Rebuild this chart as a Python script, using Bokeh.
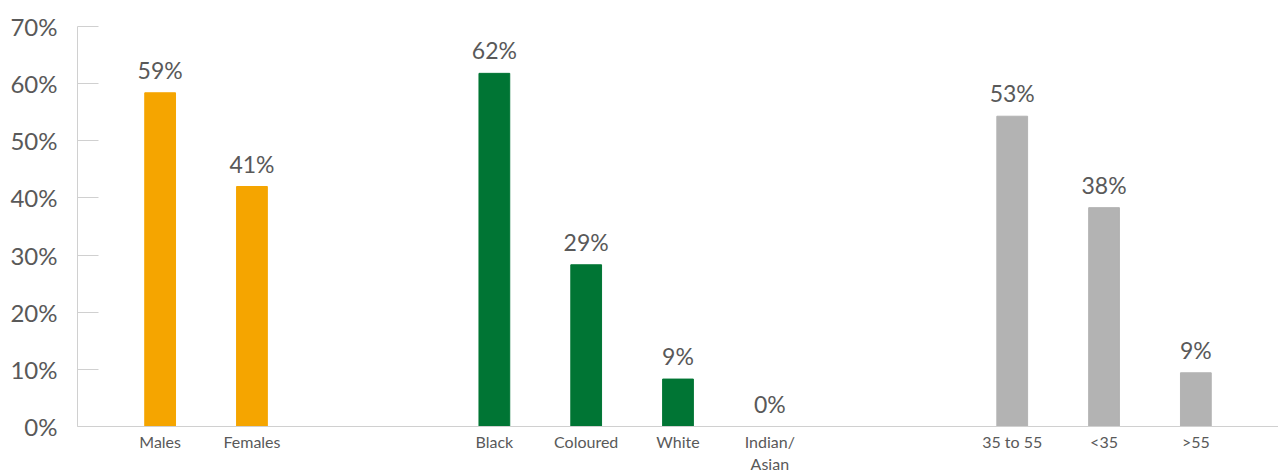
from bokeh.plotting import figure
from bokeh.models import FactorRange, ColumnDataSource, FixedTicker, PrintfTickFormatter
from bokeh.core.properties import value
from bokeh.embed import file_html
from bokeh.resources import INLINE

groups = ["Gender", "Gender", "Race", "Race", "Race", "Race", "Age", "Age", "Age"]
categories = ["Males", "Females", "Black", "Coloured", "White", "Indian/\nAsian", "35 to 55", "<35", ">55"]
values = [58.4, 42.0, 61.8, 28.3, 8.3, 0.0, 54.3, 38.3, 9.4]
labels = ["59%", "41%", "62%", "29%", "9%", "0%", "53%", "38%", "9%"]
group_colors = {"Gender": "#F5A500", "Race": "#007534", "Age": "#B3B3B3"}
y_ticks = [0, 10, 20, 30, 40, 50, 60, 70]

FONT = "Lato"
TEXT = "#595959"
AXIS = "#D0D0D0"

factors = list(zip(groups, categories))
src = ColumnDataSource(dict(
    x=factors, top=values, label=labels,
    color=[group_colors[g] for g in groups],
))

p = figure(
    width=1278, height=476,
    x_range=FactorRange(*factors, group_padding=1.64, range_padding=0.40,
                        range_padding_units="absolute"),
    y_range=(0, 70),
    output_backend="svg", toolbar_location=None,
    min_border_left=77, min_border_right=0, min_border_top=26, min_border_bottom=40,
)
p.outline_line_color = None
p.xgrid.grid_line_color = None
p.ygrid.grid_line_color = None

p.vbar(x="x", top="top", width=0.335, color="color", source=src)
p.text(x="x", y="top", text="label", source=src, text_align="center",
       text_baseline="alphabetic", y_offset=-23, text_color=TEXT,
       text_font=value(FONT), text_font_size="23px")

ya = p.yaxis[0]
ya.ticker = FixedTicker(ticks=y_ticks)
ya.formatter = PrintfTickFormatter(format="%d%%")
ya.axis_line_color = AXIS
ya.major_tick_line_color = AXIS
ya.major_tick_in = 21
ya.major_tick_out = 0
ya.minor_tick_line_color = None
ya.major_label_standoff = 20
ya.major_label_text_font = FONT
ya.major_label_text_font_size = "24px"
ya.major_label_text_color = TEXT

xa = p.xaxis[0]
xa.axis_line_color = AXIS
xa.major_tick_line_color = None
xa.major_tick_in = 0
xa.major_tick_out = 0
xa.minor_tick_line_color = None
xa.minor_tick_in = 0
xa.minor_tick_out = 0
xa.major_label_standoff = 5
xa.major_label_text_font = FONT
xa.major_label_text_font_size = "16px"
xa.major_label_text_color = TEXT
xa.group_text_font_size = "0px"
xa.group_text_color = None
xa.separator_line_color = None

open("out.html", "w").write(file_html(p, INLINE))
